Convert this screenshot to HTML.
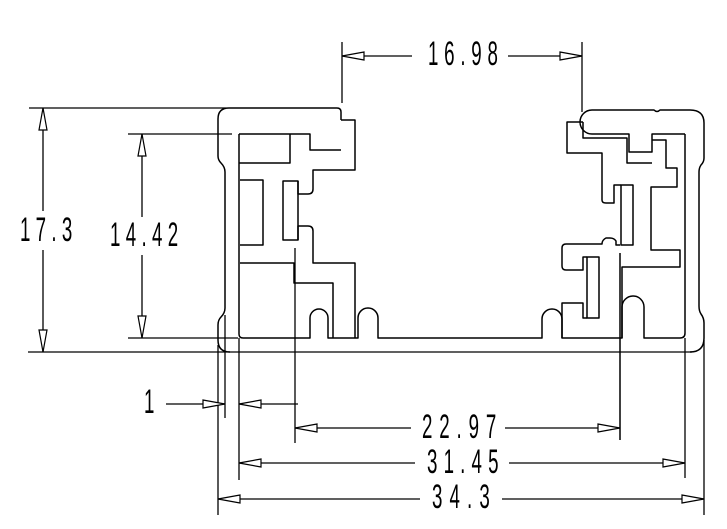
<!DOCTYPE html>
<html><head><meta charset="utf-8"><style>
html,body{margin:0;padding:0;background:#fff;}
svg{display:block;}
text{font-family:"Liberation Sans",sans-serif;font-size:34px;fill:#000;}
</style></head><body>
<svg width="727" height="529" viewBox="0 0 727 529" xmlns="http://www.w3.org/2000/svg">
<g fill="none" stroke="#000" stroke-width="1.5" stroke-linejoin="round">
<path d="M341,120 L341,112 Q341,108 337,108 L229,108 Q218,108 218,119 L218,156 Q218,160 221,163 Q225,167 225,172 L225,308 Q225,313 221,317 Q218,320 218,325 L218,340 Q218,352 230,352"/>
<path d="M239,134 L239,334 Q239,338 243,338 L310,338 L310,318 A9,9 0 0 1 328,318 L328,338 L355,338 L358,338 L358,318 A10,10 0 0 1 378,318 L378,338 L542,338 L542,319 A10,10 0 0 1 562,319 L562,338 L622,338 L622,307 A11,11 0 0 1 644,307 L644,338 L680,338 Q685,338 685,333 L685,134"/>
<path d="M239,134 L310,134 L310,150 L341,150"/>
<path d="M341,120 L355,120 L355,170 L313,170 L313,189 Q313,194 308,194 L298,194 L298,181"/>
<path d="M298,240 L298,226 L308,226 Q313,226 313,231 L313,263 L355,263 L355,338"/>
<rect x="283" y="181" width="15" height="59"/>
<path d="M239,163 L290,163 L290,134"/>
<path d="M240,180 L263,180 L263,245 L240,245"/>
<path d="M240,263 L294,263 L294,283 L333,283 L333,338"/>
<path d="M592,110 L654,110 Q657,113 660,110 L690,110 Q704,110 704,123 L704,158 Q704,162 701,165 Q699,168 699,172 L699,306 Q699,311 701,314 Q704,318 704,323 L704,338 Q704,352 690,352"/>
<path d="M592,110 A12,12 0 0 0 592,134 L629,134 L629,152 L652,152 L652,134 L685,134"/>
<path d="M583,122 L567,122 L567,153 L602,153 L602,200 Q602,203 606,203 L614,203 L614,185 L621,185"/>
<path d="M583,122 L583,138 L627,138 L627,163 L652,163"/>
<path d="M652,140 L666,140 L666,168 L677,168 L677,187 L651,187 L651,250 L680,250 L680,267 L622,267 L622,338"/>
<rect x="621" y="185" width="12" height="60"/>
<path d="M620,245 L616,245 L616,241 Q614,238 610,238 L606,238 Q602,240 602,244 L566,244 Q562,244 562,248 L562,266 Q562,270 566,270 L583,270 L583,257 L587,257"/>
<path d="M587,318 L583,318 L583,303 L562,303 L562,338"/>
<rect x="587" y="257" width="12" height="61"/>
<line x1="620" y1="253" x2="620" y2="440"/>
</g>
<g fill="none" stroke="#000" stroke-width="1.3">
<line x1="28" y1="352" x2="692" y2="352"/>
<line x1="29" y1="108" x2="226" y2="108"/>
<line x1="128" y1="134" x2="232" y2="134"/>
<line x1="128" y1="338" x2="238" y2="338"/>
<line x1="342" y1="42" x2="342" y2="103"/>
<line x1="582" y1="42" x2="582" y2="112"/>
<line x1="218" y1="345" x2="218" y2="515"/>
<line x1="225" y1="315" x2="225" y2="418"/>
<line x1="239" y1="338" x2="239" y2="480"/>
<line x1="295" y1="248" x2="295" y2="443"/>
<line x1="685" y1="338" x2="685" y2="478"/>
<line x1="704" y1="340" x2="704" y2="515"/>
<line x1="342" y1="56" x2="412" y2="56"/><line x1="508" y1="56" x2="582" y2="56"/>
<line x1="43" y1="108" x2="43" y2="211"/><line x1="43" y1="250" x2="43" y2="352"/>
<line x1="142" y1="134" x2="142" y2="217"/><line x1="142" y1="255" x2="142" y2="338"/>
<line x1="166" y1="404" x2="225" y2="404"/><line x1="239" y1="404" x2="298" y2="404"/>
<line x1="295" y1="428" x2="411" y2="428"/><line x1="505" y1="428" x2="620" y2="428"/>
<line x1="239" y1="463" x2="415" y2="463"/><line x1="509" y1="463" x2="685" y2="463"/>
<line x1="218" y1="499" x2="420" y2="499"/><line x1="502" y1="499" x2="704" y2="499"/>
</g>
<g fill="#fff" stroke="#000" stroke-width="1.2">
<polygon points="342,56 364,52 364,60"/>
<polygon points="582,56 560,52 560,60"/>
<polygon points="43,108 39,130 47,130"/>
<polygon points="43,352 39,330 47,330"/>
<polygon points="142,134 138,156 146,156"/>
<polygon points="142,338 138,316 146,316"/>
<polygon points="225,404 203,400 203,408"/>
<polygon points="239,404 261,400 261,408"/>
<polygon points="295,428 317,424 317,432"/>
<polygon points="620,428 598,424 598,432"/>
<polygon points="239,463 261,459 261,467"/>
<polygon points="685,463 663,459 663,467"/>
<polygon points="218,499 240,495 240,503"/>
<polygon points="704,499 682,495 682,503"/>
</g>
<g>
<text transform="translate(428,65) scale(0.55,1)" textLength="127" lengthAdjust="spacing">16.98</text>
<text transform="translate(20,241) scale(0.55,1)" textLength="95" lengthAdjust="spacing">17.3</text>
<text transform="translate(110,246) scale(0.55,1)" textLength="124" lengthAdjust="spacing">14.42</text>
<text transform="translate(144,413) scale(0.55,1)">1</text>
<text transform="translate(422,438) scale(0.55,1)" textLength="135" lengthAdjust="spacing">22.97</text>
<text transform="translate(427,473) scale(0.55,1)" textLength="130" lengthAdjust="spacing">31.45</text>
<text transform="translate(432,508) scale(0.55,1)" textLength="105" lengthAdjust="spacing">34.3</text>
</g>
</svg>
</body></html>
